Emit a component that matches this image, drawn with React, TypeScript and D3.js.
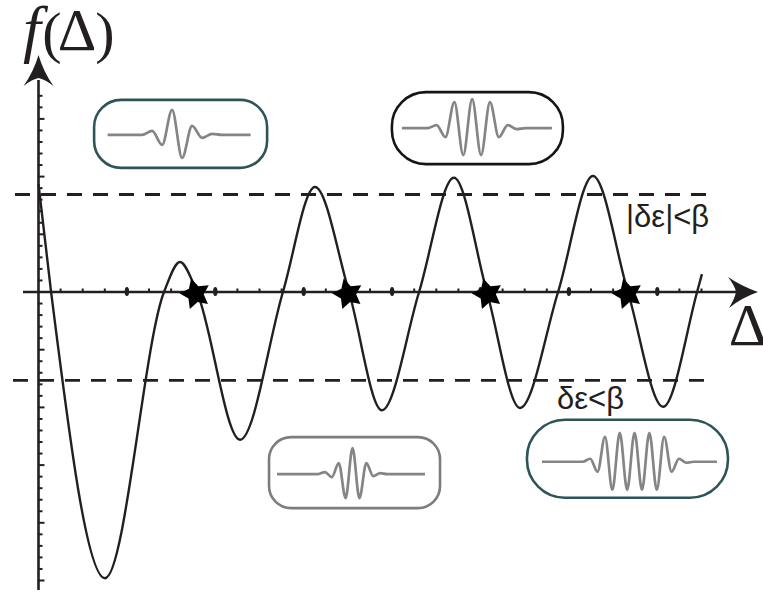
import React from "react";
import * as d3 from "d3";

// Main oscillating curve f(Δ): knots (extrema + zero crossings) in axis units
const curveX = [0, 0.57, 3.01, 5.68, 6.4, 7.17, 9.12, 11.06, 12.51, 14.05, 15.54, 17.22, 18.8, 20.29, 21.79, 23.51, 25.09, 26.67, 28.26, 29.8, 30.02];
const curveY = [1.87, 0, -4.96, 0, 0.52, 0, -2.56, 0, 1.82, 0, -2.05, 0, 1.98, 0, -2.01, 0, 2.01, 0, -1.99, 0, 0.31];

// Threshold (dashed) levels
const thresholds = [1.69, -1.53];
const thresholdLabels = ["|δε|<β", "δε<β"];

// Stars at the falling zero crossings
const starX = [7.1, 14.0, 20.32, 26.65];

// Inset centres in axis units
const insetCX = [6.43, 19.86, 14.3, 26.65];
const insetCY = [2.74, 2.84, -3.13, -2.89];

// Wavelet extrema (relative amplitudes) for each inset
const wavelet1 = [0, 4, -10, 25, -23, 9, -3, 1, 0];
const wavelet2 = [0, 3, -9, 26, -27, 29, -27, 26, -9, 3, -1, 0];
const wavelet3 = [0, 2, -3, 11, -24, 26, -24, 11, -2, 1, 0];
const wavelet4 = [0, 3, -10, 25, -28, 29, -28, 29, -28, 29, -28, 25, -10, 3, -1, 0];
const wavelets = [wavelet1, wavelet2, wavelet3, wavelet4];

// Axis ticks
const xTicks = d3.range(1, 31);
const yTicks = d3.range(-25, 18).filter((k) => k !== 0);

// Layout / styles (not data)
const INK = "#231f20";
const insetStyle = [
  { w: 173, h: 68, r: 27, stroke: "#2e5457", hp: 10, dx: 1.5, dy: 1, x0: -73, x1: 70 },
  { w: 171, h: 72, r: 34, stroke: "#151515", hp: 8.9, dx: -0.8, dy: 0, x0: -75.5, x1: 74.5 },
  { w: 171, h: 71, r: 22, stroke: "#7d7d7d", hp: 6.9, dx: -2, dy: 1.5, x0: -77.5, x1: 70.5 },
  { w: 201, h: 78, r: 38, stroke: "#2e5457", hp: 7.4, dx: 10.8, dy: 3, x0: -85.5, x1: 89.5 },
];

const x = d3.scaleLinear().domain([0, 30]).range([38.5, 38.5 + 30 * 22.1]);
const y = d3.scaleLinear().domain([-5, 3]).range([292 + 5 * 57.7, 292 - 3 * 57.7]);
const yMinor = (k: number) => y(k / 5);

function starPath(rOut: number, rIn: number, rot: number) {
  const pts: [number, number][] = d3.range(10).map((i) => [rot + (i * Math.PI) / 5, i % 2 === 0 ? rOut : rIn]);
  return d3.lineRadial().curve(d3.curveLinearClosed)(pts) as string;
}

export default function App() {
  const mainPts: [number, number][] = curveX.map((v, i) => [x(v), y(curveY[i])]);
  const mainPath = d3.line().curve(d3.curveMonotoneX)(mainPts) as string;
  const x0 = x(0);
  const y0 = y(0);
  const star = starPath(16, 8.3, -0.27);

  return (
    <div style={{ position: "absolute", left: 0, top: 0 }}>
      <svg width={763} height={592} style={{ display: "block", background: "#fff" }}>
        {/* dashed threshold lines */}
        {thresholds.map((t, i) => (
          <line key={i} x1={i === 0 ? 15 : 13} x2={i === 0 ? 708 : 710} y1={y(t)} y2={y(t)} stroke={INK} strokeWidth={2.8} strokeDasharray="15 11" />
        ))}
        {/* axes */}
        <line x1={x0} x2={x0} y1={80} y2={590} stroke={INK} strokeWidth={2.6} />
        <line x1={23} x2={738} y1={y0} y2={y0} stroke={INK} strokeWidth={2.6} />
        <path d={`M${x0},55 Q${x0 + 5},72 ${x0 + 15},86 Q${x0 + 6},79 ${x0},78 Q${x0 - 6},79 ${x0 - 15},86 Q${x0 - 5},72 ${x0},55 Z`} fill={INK} />
        <path d={`M758,${y0} Q741,${y0 + 6} 729,${y0 + 16} Q735,${y0 + 6} 736,${y0} Q735,${y0 - 6} 728,${y0 - 15} Q741,${y0 - 6} 758,${y0} Z`} fill={INK} />
        {/* y ticks */}
        {yTicks.map((k) => (
          <line key={k} x1={x0} x2={x0 + (k % 5 === 0 ? 6 : 4)} y1={yMinor(k)} y2={yMinor(k)} stroke={INK} strokeWidth={2} />
        ))}
        {/* x ticks */}
        {xTicks.map((k) =>
          k % 4 === 0 ? (
            <ellipse key={k} cx={x(k)} cy={y0 - 0.5} rx={2.2} ry={4.5} fill={INK} />
          ) : (
            <line key={k} x1={x(k)} x2={x(k)} y1={y0 - 3.5} y2={y0 + 1} stroke={INK} strokeWidth={2} />
          )
        )}
        {/* main curve */}
        <path d={mainPath} fill="none" stroke={INK} strokeWidth={2.4} />
        {/* stars */}
        {starX.map((s, i) => (
          <path key={i} d={star} transform={`translate(${x(s)},${y0 + 2})`} fill="#000" />
        ))}
        {/* insets */}
        {wavelets.map((w, i) => {
          const st = insetStyle[i];
          const cx = x(insetCX[i]);
          const cy = y(insetCY[i]);
          const n = w.length;
          const wy = d3.scaleLinear().domain([-30, 30]).range([cy + st.dy + 30, cy + st.dy - 30]);
          const pts: [number, number][] = [
            [cx + st.x0, wy(0)],
            ...w.map((a, j) => [cx + st.dx + (j - (n - 1) / 2) * st.hp, wy(a)] as [number, number]),
            [cx + st.x1, wy(0)],
          ];
          const p = d3.line().curve(d3.curveMonotoneX)(pts) as string;
          return (
            <g key={i}>
              <rect x={cx - st.w / 2} y={cy - st.h / 2} width={st.w} height={st.h} rx={st.r} ry={st.r} fill="#fff" stroke={st.stroke} strokeWidth={2.6} />
              <path d={p} fill="none" stroke="#858585" strokeWidth={2.7} />
            </g>
          );
        })}
        {/* labels */}
        <g fontFamily="'Liberation Serif', 'Times New Roman', serif" fill={INK}>
          <text x={32} y={50} fontSize={64} fontStyle="italic" textAnchor="middle">f</text>
          <text x={52} y={52} fontSize={58} textAnchor="middle">(</text>
          <text x={77} y={50} fontSize={60} textAnchor="middle">Δ</text>
          <text x={105} y={52} fontSize={58} textAnchor="middle">)</text>
          <text x={748} y={345} fontSize={60} textAnchor="middle">Δ</text>
        </g>
        <g fontFamily="'Liberation Sans', Arial, sans-serif" fill={INK} fontSize={31}>
          <text x={626} y={227}>{thresholdLabels[0]}</text>
          <text x={557} y={409}>{thresholdLabels[1]}</text>
        </g>
      </svg>
    </div>
  );
}
